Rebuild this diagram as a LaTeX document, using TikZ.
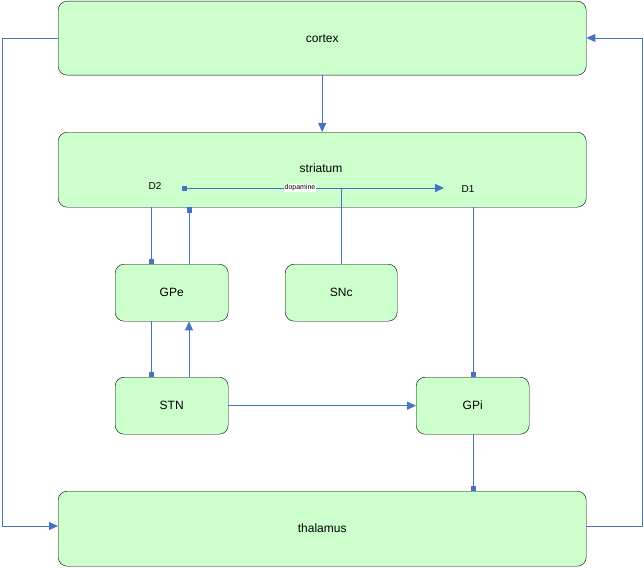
\documentclass[tikz,border=0pt]{standalone}
\usepackage{fontspec}
\setmainfont{Liberation Sans}
\usetikzlibrary{arrows.meta}
\definecolor{boxgreen}{RGB}{204,255,204}
\definecolor{linkblue}{RGB}{68,114,196}
\begin{document}
\begin{tikzpicture}[x=1pt,y=-1pt,
            area node/.style={draw,fill=boxgreen,rounded corners=9pt,anchor=north west,inner sep=0pt,font=\large},
            link/.style={draw=linkblue,line width=0.9pt},
            excite/.style={link,-{Triangle[length=9pt,width=8pt]}},
            inhibit/.style={link,-{Square[length=5pt,width=5pt]}},
            ]
            \useasboundingbox (0,0) rectangle (644,567);

            \node[area node,minimum width=528pt,minimum height=74pt] (cortex) at (58,1) {cortex};
            \node[area node,minimum width=528pt,minimum height=75pt] (striatum) at (58,132) {};
            \node[font=\large] at (321,168) {striatum};
            \node[area node,minimum width=113pt,minimum height=57pt] (gpe) at (115,264) {GPe};
            \node[area node,minimum width=112pt,minimum height=57pt] (snc) at (285,264) {SNc};
            \node[area node,minimum width=113pt,minimum height=57pt] (stn) at (115,377) {STN};
            \node[area node,minimum width=113pt,minimum height=57pt] (gpi) at (416,377) {GPi};
            \node[area node,minimum width=528pt,minimum height=75pt] (thalamus) at (58,491) {thalamus};

            \node (d2) at (155,186) {D2};
            \node (d1) at (468,189) {D1};
            \coordinate (split) at (341,188);
            \coordinate (d2end) at (182,188);
            \coordinate (d1end) at (444,188);

            \draw[excite] (cortex) -- (striatum);
            \draw[inhibit] (snc.north -| split) -- (split) -- (d2end);
            \draw[excite] (split) -- (d1end);
            \node[fill=white,inner sep=0.5pt,font=\scriptsize] at (300,188) {dopamine};
            \draw[inhibit] (striatum.south -| 151,0) -- (gpe.north -| 151,0);
            \draw[inhibit] (gpe.north -| 189,0) -- (striatum.south -| 189,0);
            \draw[inhibit] (gpe.south -| 151,0) -- (stn.north -| 151,0);
            \draw[excite] (stn.north -| 189,0) -- (gpe.south -| 189,0);
            \draw[excite] (stn) -- (gpi);
            \draw[inhibit] (striatum.south -| 473,0) -- (gpi.north -| 473,0);
            \draw[inhibit] (gpi.south -| 473,0) -- (thalamus.north -| 473,0);
            \draw[excite] (cortex.west |- 0,38) -- (2,38) -- (2,526) -- (thalamus.west |- 0,526);
            \draw[excite] (thalamus.east |- 0,526) -- (642,526) -- (642,38) -- (cortex.east |- 0,38);
        \end{tikzpicture}
\end{document}
